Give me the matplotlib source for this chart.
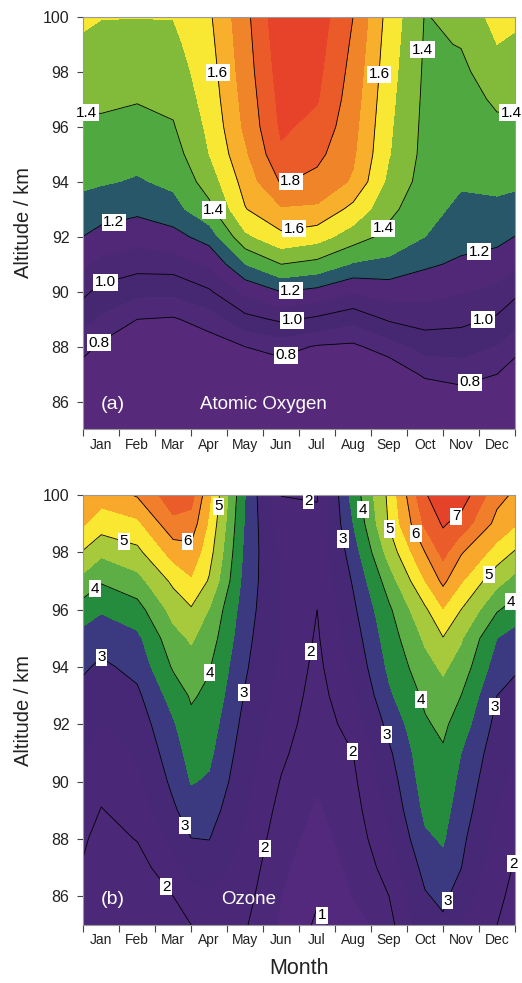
import numpy as np
import matplotlib
matplotlib.use("Agg")
import matplotlib.pyplot as plt

plt.rcParams['font.family'] = ['Liberation Sans', 'DejaVu Sans']

months = ["Jan", "Feb", "Mar", "Apr", "May", "Jun", "Jul", "Aug", "Sep", "Oct", "Nov", "Dec"]
altitudes = list(range(85, 101))  # km

# Atomic oxygen (panel a): one list per month (mid-month), values at 85..100 km
ao_positions = [0.5, 1.5, 2.5, 3.5, 4.5, 5.5, 6.5, 7.5, 8.5, 9.5, 10.5, 11.5]
atomic_oxygen = [
    [0.52, 0.59, 0.69, 0.78, 0.88, 0.97, 1.07, 1.17, 1.24, 1.31, 1.345, 1.384, 1.417, 1.446, 1.474, 1.503],  # Jan
    [0.52, 0.60, 0.67, 0.74, 0.80, 0.925, 1.039, 1.137, 1.223, 1.29, 1.332, 1.37, 1.406, 1.438, 1.47, 1.502],  # Feb
    [0.52, 0.60, 0.67, 0.74, 0.79, 0.92, 1.047, 1.165, 1.264, 1.321, 1.357, 1.393, 1.422, 1.449, 1.476, 1.503],  # Mar
    [0.55, 0.62, 0.69, 0.75, 0.843, 0.986, 1.113, 1.243, 1.375, 1.444, 1.50, 1.52, 1.54, 1.555, 1.57, 1.585],  # Apr
    [0.60, 0.67, 0.73, 0.80, 0.967, 1.123, 1.30, 1.478, 1.595, 1.64, 1.683, 1.72, 1.735, 1.75, 1.76, 1.77],  # May
    [0.60, 0.67, 0.74, 0.836, 1.018, 1.20, 1.40, 1.575, 1.689, 1.81, 1.885, 1.915, 1.93, 1.945, 1.96, 1.975],  # Jun
    [0.60, 0.67, 0.74, 0.79, 0.98, 1.171, 1.37, 1.541, 1.683, 1.769, 1.827, 1.873, 1.907, 1.925, 1.94, 1.955],  # Jul
    [0.58, 0.65, 0.72, 0.78, 0.93, 1.109, 1.29, 1.45, 1.57, 1.6875, 1.715, 1.732, 1.749, 1.766, 1.783, 1.80],  # Aug
    [0.57, 0.64, 0.72, 0.85, 1.013, 1.142, 1.273, 1.367, 1.427, 1.473, 1.505, 1.515, 1.526, 1.537, 1.548, 1.56],  # Sep
    [0.60, 0.70, 0.818, 0.935, 1.042, 1.135, 1.215, 1.30, 1.33, 1.36, 1.37, 1.375, 1.38, 1.385, 1.39, 1.395],  # Oct
    [0.62, 0.74, 0.839, 0.937, 1.027, 1.106, 1.184, 1.236, 1.28, 1.31, 1.328, 1.347, 1.365, 1.384, 1.403, 1.43],  # Nov
    [0.62, 0.72, 0.80, 0.893, 0.986, 1.072, 1.157, 1.227, 1.281, 1.321, 1.352, 1.384, 1.414, 1.443, 1.50, 1.535],  # Dec
]

# Ozone (panel b): mid-month profiles plus the Mar/Apr and Oct/Nov turn of month
oz_positions = [0.5, 1.5, 2.5, 3.0, 3.5, 4.5, 5.5, 6.5, 7.5, 8.5, 9.5, 10.0, 10.5, 11.5]
ozone = [
    [1.55, 1.65, 1.72, 1.82, 1.98, 2.15, 2.3, 2.5, 2.7, 2.9, 3.2, 3.55, 4.05, 4.6, 5.25, 5.7],  # Jan
    [1.5, 1.62, 1.8, 2.02, 2.2, 2.38, 2.55, 2.72, 2.9, 3.15, 3.38, 3.81, 4.32, 4.875, 5.38, 6.05],  # Feb
    [1.85, 2.0, 2.31, 2.62, 2.92, 3.12, 3.28, 3.44, 3.71, 4.06, 4.33, 4.67, 5.11, 5.7, 6.37, 6.8],  # Mar
    [2.0, 2.35, 2.67, 2.99, 3.27, 3.53, 3.68, 3.87, 4.06, 4.3, 4.56, 4.95, 5.44, 5.83, 6.3, 6.7],  # Mar/Apr
    [2.15, 2.43, 2.72, 3.01, 3.22, 3.44, 3.6, 3.74, 3.89, 4.04, 4.26, 4.48, 4.95, 5.2, 5.41, 5.6],  # Apr
    [2.05, 2.18, 2.3, 2.42, 2.53, 2.63, 2.73, 2.84, 2.96, 3.06, 3.14, 3.22, 3.3, 3.37, 3.44, 3.5],  # May
    [1.42, 1.5, 1.6, 1.72, 1.84, 1.97, 2.1, 2.22, 2.32, 2.4, 2.46, 2.5, 2.48, 2.4, 2.22, 1.99],  # Jun
    [0.92, 1.05, 1.17, 1.3, 1.43, 1.56, 1.65, 1.73, 1.8, 1.87, 1.94, 2.0, 2.08, 2.1, 2.06, 1.98],  # Jul
    [1.2, 1.52, 1.62, 1.72, 1.8, 1.9, 2.0, 2.2, 2.4, 2.6, 2.75, 2.9, 3.05, 3.25, 3.5, 3.7],  # Aug
    [1.85, 2.0, 2.2, 2.4, 2.6, 2.75, 2.92, 3.15, 3.42, 3.6, 3.75, 3.92, 4.25, 4.7, 5.05, 5.12],  # Sep
    [2.8, 2.95, 3.17, 3.42, 3.6, 3.73, 3.82, 3.94, 4.1, 4.33, 4.58, 4.92, 5.5, 6.0, 6.6, 6.95],  # Oct
    [2.9, 3.12, 3.36, 3.55, 3.68, 3.81, 3.94, 4.11, 4.33, 4.58, 4.98, 5.47, 6.12, 6.66, 7.06, 7.35],  # Oct/Nov
    [2.5, 2.75, 3.01, 3.12, 3.25, 3.37, 3.5, 3.75, 4.0, 4.3, 4.55, 5.0, 5.55, 6.05, 6.8, 7.3],  # Nov
    [2.0, 2.1, 2.2, 2.32, 2.48, 2.6, 2.72, 2.85, 3.0, 3.25, 3.5, 4.05, 4.65, 5.3, 5.85, 6.15],  # Dec
]

a_fill_levels = [0.0, 0.8, 0.9, 1.0, 1.1, 1.2, 1.3, 1.4, 1.5, 1.6, 1.7, 1.8, 1.9, 2.5]
a_colors = ["#57297b", "#4d2977", "#452871", "#4a2874", "#512878", "#29576a", "#4fa940",
            "#82ba3a", "#f8e733", "#f8af2b", "#f08429", "#eb5b2a", "#e6432a"]
a_line_levels = [0.8, 1.0, 1.2, 1.4, 1.6, 1.8]

b_fill_levels = [0.0, 1.0, 1.5, 2.0, 2.5, 3.0, 3.5, 4.0, 4.5, 5.0, 5.5, 6.0, 6.5, 7.0, 9.0]
b_colors = ["#64298c", "#53297e", "#4c2879", "#4a2877", "#472877", "#3b3a80", "#248c3c",
            "#5daf45", "#a7c93c", "#f9e731", "#f8a82b", "#f17e2a", "#eb5c2b", "#e5422a"]
b_line_levels = [1, 2, 3, 4, 5, 6, 7]

a_label_pos = [(0.1, 96.6), (3.75, 97.96), (8.29, 97.9), (9.55, 98.8), (11.86, 95.5),
               (5.81, 93.9), (3.69, 93.03), (5.87, 92.24), (8.32, 92.33), (0.86, 92.48),
               (11.03, 91.33), (5.77, 89.96), (0.67, 90.1), (5.81, 88.95), (11.12, 88.95),
               (0.54, 88.0), (5.61, 87.82), (10.8, 86.5)]
b_label_pos = [(3.85, 99.6), (1.13, 98.37), (2.87, 98.14), (0.28, 96.8), (0.54, 94.5),
               (3.52, 93.8), (4.52, 93.1), (6.23, 99.6), (5.96, 94.6), (2.78, 88.44),
               (5.05, 87.68), (2.32, 86.35), (6.78, 85.44), (7.83, 99.5), (7.39, 98.5),
               (8.43, 98.78), (8.99, 98.5), (10.4, 99.19), (11.29, 97.2), (11.79, 96.4),
               (11.4, 92.62), (7.55, 91.09), (8.53, 91.67), (9.38, 92.85), (10.06, 85.88),
               (11.83, 87.18)]

fig = plt.figure(figsize=(5.22, 9.83), dpi=100)
W, H = 522.0, 983.0
ax_a = fig.add_axes([83.3 / W, 1 - 429.3 / H, (515 - 83.3) / W, (429.3 - 16.7) / H])
ax_b = fig.add_axes([83.3 / W, 1 - 925.0 / H, (515 - 83.3) / W, (925.0 - 495.0) / H])

alt = np.array(altitudes, dtype=float)


def panel(ax, xpos, data, fill_levels, colors, line_levels, fmt, label_pos, tag, name, name_x):
    Z = np.array(data, dtype=float).T
    # wrap the annual cycle (Dec before Jan, Jan after Dec)
    Zext = np.column_stack([Z[:, -1], Z, Z[:, 0]])
    xext = np.concatenate([[xpos[-1] - 12], xpos, [xpos[0] + 12]])
    ax.set_xlim(0, 12)
    ax.set_ylim(85, 100)
    ax.contourf(xext, alt, Zext, levels=fill_levels, colors=colors)
    cs = ax.contour(xext, alt, Zext, levels=line_levels, colors="black", linewidths=0.6)
    labels = ax.clabel(cs, manual=label_pos, inline=False, fmt=fmt, fontsize=11)
    for t in labels:
        t.set_rotation(0)
        t.set_clip_on(False)
        t.set_bbox(dict(facecolor="white", edgecolor="none", boxstyle="square,pad=0.1"))
        t.set_color("black")
    ax.set_xticks(range(13))
    ax.set_xticklabels([])
    ax.set_xticks(np.arange(12) + 0.5, minor=True)
    ax.set_xticklabels(months, minor=True, fontsize=10, color="#222222")
    ax.tick_params(axis="x", which="major", direction="out", length=5, width=0.8, color="#444444")
    ax.tick_params(axis="x", which="minor", length=0, pad=6)
    ax.set_yticks(range(86, 101, 2))
    ax.tick_params(axis="y", direction="out", length=4, width=0.8, color="#444444",
                   labelsize=11.5, pad=6, labelcolor="#222222")
    for s in ax.spines.values():
        s.set_color("#999999")
        s.set_linewidth(0.8)
    ax.set_ylabel("Altitude / km", fontsize=14.5, labelpad=7, color="#222222")
    ax.text(0.83, 85.9, tag, color="white", fontsize=14, ha="center", va="center")
    ax.text(name_x, 85.9, name, color="white", fontsize=13.5, ha="center", va="center")


panel(ax_a, ao_positions, atomic_oxygen, a_fill_levels, a_colors, a_line_levels, "%.1f",
      a_label_pos, "(a)", "Atomic Oxygen", 5.0)
panel(ax_b, oz_positions, ozone, b_fill_levels, b_colors, b_line_levels, lambda v: f"{v:.0f}",
      b_label_pos, "(b)", "Ozone", 4.6)
ax_b.set_xlabel("Month", fontsize=15.5, labelpad=8, color="#222222")

fig.savefig("out.png", dpi=100)
